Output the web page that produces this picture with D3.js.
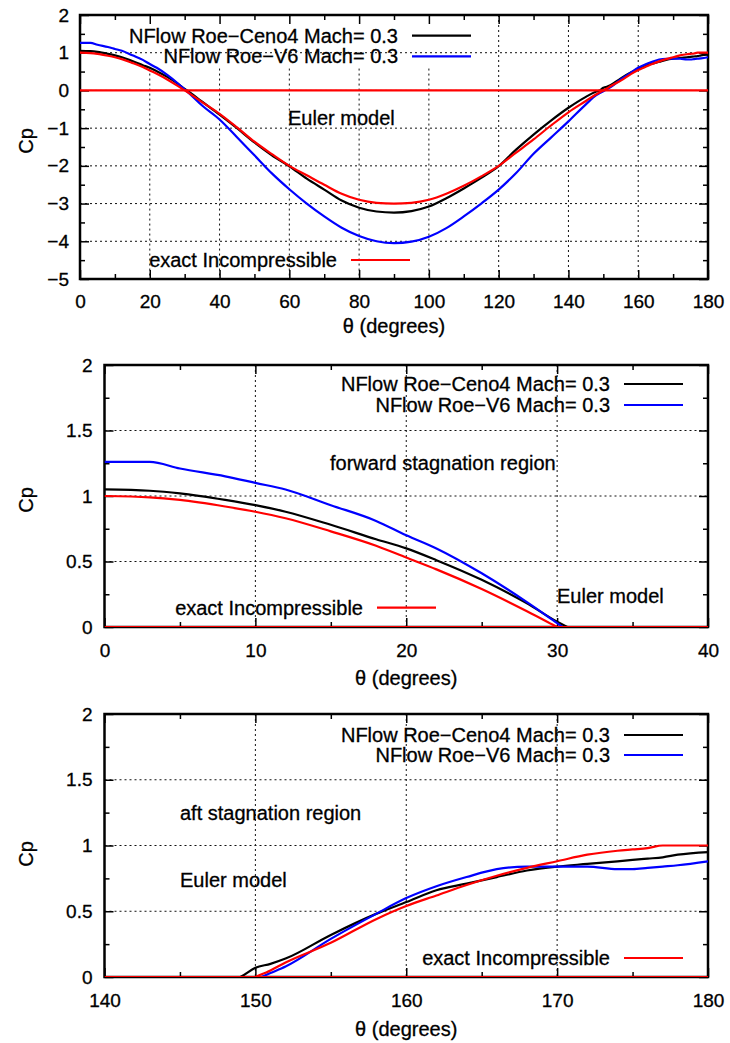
<!DOCTYPE html>
<html>
<head>
<meta charset="utf-8">
<script src="https://cdn.jsdelivr.net/npm/d3@7"></script>
<style>
  body { margin: 0; background: #fff; }
  svg text { font-family: "Liberation Sans", Arial, Helvetica, sans-serif; fill: #000; stroke: #000; stroke-width: 0.3px; }
</style>
</head>
<body>
<svg id="chart" width="730" height="1043"></svg>
<script>
// Surface pressure coefficient around the cylinder, theta in degrees
const theta = [0, 3, 5, 8, 10, 12, 15, 18, 20, 22, 25, 28, 30, 31, 35, 40, 45, 50, 55, 60,
  65, 70, 75, 80, 85, 90, 95, 100, 105, 110, 115, 120, 125, 130, 135, 140, 145, 148, 149, 150,
  151, 152, 155, 158, 160, 162, 164, 166, 168, 170, 172, 174, 175, 176, 177, 178, 180];

const cpCeno4 = [1.05, 1.04, 1.02, 0.97, 0.93, 0.88, 0.78, 0.67, 0.60, 0.51, 0.36, 0.18, 0.04, -0.02, -0.30, -0.64, -1.00, -1.38, -1.72, -2.01,
  -2.34, -2.63, -2.92, -3.11, -3.21, -3.24, -3.20, -3.08, -2.86, -2.60, -2.32, -2.01, -1.57, -1.17, -0.80, -0.46, -0.17, -0.03, 0.00, 0.07,
  0.10, 0.14, 0.32, 0.48, 0.57, 0.66, 0.71, 0.76, 0.81, 0.84, 0.86, 0.88, 0.89, 0.90, 0.91, 0.93, 0.95];

const cpV6 = [1.26, 1.26, 1.21, 1.15, 1.10, 1.05, 0.93, 0.81, 0.70, 0.60, 0.41, 0.19, 0.03, -0.05, -0.40, -0.77, -1.24, -1.72, -2.20, -2.62,
  -3.00, -3.34, -3.64, -3.86, -4.00, -4.05, -4.01, -3.88, -3.65, -3.34, -3.00, -2.63, -2.19, -1.68, -1.25, -0.82, -0.37, -0.12, -0.07, -0.02,
  0.03, 0.08, 0.29, 0.48, 0.60, 0.69, 0.76, 0.82, 0.84, 0.84, 0.84, 0.82, 0.82, 0.83, 0.84, 0.85, 0.88];

const cpExact = [1.00, 0.99, 0.97, 0.92, 0.88, 0.83, 0.73, 0.62, 0.53, 0.44, 0.29, 0.12, 0.00, -0.06, -0.31, -0.62, -0.98, -1.36, -1.69, -2.00,
  -2.25, -2.50, -2.74, -2.90, -2.98, -3.00, -2.98, -2.90, -2.74, -2.53, -2.28, -2.00, -1.65, -1.30, -0.93, -0.58, -0.28, -0.10, -0.05, 0.00,
  0.05, 0.11, 0.26, 0.44, 0.54, 0.62, 0.70, 0.77, 0.83, 0.88, 0.93, 0.96, 0.97, 0.98, 1.00, 1.00, 1.00];

const seriesNames = ["NFlow Roe\u2212Ceno4 Mach= 0.3", "NFlow Roe\u2212V6 Mach= 0.3", "exact Incompressible"];
const seriesColors = ["#000000", "#0000ff", "#ff0000"];

// Axis ticks for the three panels
const xTicksFull = [0, 20, 40, 60, 80, 100, 120, 140, 160, 180];
const yTicksFull = [-5, -4, -3, -2, -1, 0, 1, 2];
const xTicksFwd = [0, 10, 20, 30, 40];
const xTicksAft = [140, 150, 160, 170, 180];
const yTicksZoom = [0, 0.5, 1, 1.5, 2];

const xTitle = "\u03b8 (degrees)";
const yTitle = "Cp";

const panels = [
  { left: 80, top: 15, right: 708, bottom: 279,
    xDom: [0, 180], yDom: [-5, 2], xMaj: xTicksFull, yMaj: yTicksFull, xMinStep: 10, yMinStep: 0.5,
    yPad: 11, xPad: 16, gapUntilX: 100, gapBelowY: 0.58,
    keyRight: 398, keyY: [35.7, 56.3], exactRight: 337, exactY: 260,
    notes: [{ t: "Euler model", x: 288, y: 125 }],
    xTitleY: 333, yTitleX: 33, yTitleY: 141 },
  { left: 104.5, top: 365, right: 708, bottom: 627,
    xDom: [0, 40], yDom: [0, 2], xMaj: xTicksFwd, yMaj: yTicksZoom, xMinStep: 5, yMinStep: 0.25,
    yPad: 12, xPad: 17, gapUntilX: null,
    keyRight: 610, keyY: [384, 405], exactRight: 363, exactY: 607.7,
    notes: [{ t: "forward stagnation region", x: 330, y: 470 }, { t: "Euler model", x: 557, y: 603 }],
    xTitleY: 685, yTitleX: 33, yTitleY: 500 },
  { left: 104.5, top: 714, right: 708, bottom: 977,
    xDom: [140, 180], yDom: [0, 2], xMaj: xTicksAft, yMaj: yTicksZoom, xMinStep: 5, yMinStep: 0.25,
    yPad: 12, xPad: 17, gapUntilX: null,
    keyRight: 610, keyY: [735, 755], exactRight: 610, exactY: 958,
    notes: [{ t: "aft stagnation region", x: 180, y: 820 }, { t: "Euler model", x: 180, y: 887 }],
    xTitleY: 1036, yTitleX: 33, yTitleY: 854 }
];

const svg = d3.select("#chart");
const FONT = 19;

panels.forEach((p, i) => {
  const x = d3.scaleLinear().domain(p.xDom).range([p.left, p.right]);
  const y = d3.scaleLinear().domain(p.yDom).range([p.bottom, p.top]);
  const g = svg.append("g");

  const clipId = "clip" + i;
  svg.append("clipPath").attr("id", clipId)
    .append("rect").attr("x", p.left).attr("y", p.top)
    .attr("width", p.right - p.left).attr("height", p.bottom - p.top);

  // dotted grid at the major ticks
  const grid = g.append("g").attr("stroke", "#111").attr("stroke-width", 1)
    .attr("stroke-dasharray", "2,3").attr("fill", "none");
  p.xMaj.filter(v => v > p.xDom[0] && v < p.xDom[1]).forEach(v => {
    const y0 = (p.gapUntilX !== null && v <= p.gapUntilX) ? y(p.gapBelowY) : p.top;
    grid.append("line").attr("x1", x(v)).attr("x2", x(v)).attr("y1", y0).attr("y2", p.bottom);
  });
  p.yMaj.filter(v => v > p.yDom[0] && v < p.yDom[1]).forEach(v => {
    grid.append("line").attr("x1", p.left).attr("x2", p.right).attr("y1", y(v)).attr("y2", y(v));
  });

  // minor tick values
  const xMin = d3.range(p.xDom[0], p.xDom[1] + 1e-9, p.xMinStep).filter(v => !p.xMaj.includes(v));
  const yMin = d3.range(p.yDom[0], p.yDom[1] + 1e-9, p.yMinStep)
    .map(v => +v.toFixed(3)).filter(v => !p.yMaj.includes(v));

  const fmt = d => d3.format("")(d).replace("-", "\u2212");

  // ticks on all four sides, pointing inward; labels on bottom and left
  const axes = [
    [d3.axisBottom(x).tickValues(p.xMaj).tickSize(-9).tickPadding(p.xPad).tickFormat(fmt), `translate(0,${p.bottom})`],
    [d3.axisBottom(x).tickValues(xMin).tickSize(-5).tickFormat(""), `translate(0,${p.bottom})`],
    [d3.axisTop(x).tickValues(p.xMaj).tickSize(-9).tickFormat(""), `translate(0,${p.top})`],
    [d3.axisTop(x).tickValues(xMin).tickSize(-5).tickFormat(""), `translate(0,${p.top})`],
    [d3.axisLeft(y).tickValues(p.yMaj).tickSize(-9).tickPadding(p.yPad).tickFormat(fmt), `translate(${p.left},0)`],
    [d3.axisLeft(y).tickValues(yMin).tickSize(-5).tickFormat(""), `translate(${p.left},0)`],
    [d3.axisRight(y).tickValues(p.yMaj).tickSize(-9).tickFormat(""), `translate(${p.right},0)`],
    [d3.axisRight(y).tickValues(yMin).tickSize(-5).tickFormat(""), `translate(${p.right},0)`]
  ];
  axes.forEach(([ax, tr]) => {
    const a = g.append("g").attr("transform", tr).call(ax);
    a.select(".domain").remove();
    a.selectAll("line").attr("stroke", "#000").attr("stroke-width", 1.5);
    a.selectAll("text").attr("font-size", FONT).attr("fill", "#000")
      .style("font-family", '"Liberation Sans", Arial, sans-serif');
  });

  // frame
  g.append("rect").attr("x", p.left).attr("y", p.top)
    .attr("width", p.right - p.left).attr("height", p.bottom - p.top)
    .attr("fill", "none").attr("stroke", "#000").attr("stroke-width", 2.5);

  // annotations
  p.notes.forEach(n => {
    g.append("text").attr("x", n.x).attr("y", n.y).attr("font-size", 20).text(n.t);
  });

  // curves
  const line = d3.line().x(d => x(d[0])).y(d => y(d[1])).curve(d3.curveMonotoneX);
  const curves = g.append("g").attr("clip-path", `url(#${clipId})`).attr("fill", "none")
    .attr("stroke-width", 2.2).attr("stroke-linejoin", "round");
  [cpCeno4, cpV6, cpExact].forEach((vals, k) => {
    curves.append("path").datum(theta.map((t, j) => [t, vals[j]]))
      .attr("stroke", seriesColors[k]).attr("d", line);
  });
  // Cp = 0 reference line
  curves.append("path").datum([[p.xDom[0], 0], [p.xDom[1], 0]])
    .attr("stroke", "#ff0000").attr("d", line);

  // keys
  const keyRows = [
    { name: seriesNames[0], color: seriesColors[0], right: p.keyRight, y: p.keyY[0] },
    { name: seriesNames[1], color: seriesColors[1], right: p.keyRight, y: p.keyY[1] },
    { name: seriesNames[2], color: seriesColors[2], right: p.exactRight, y: p.exactY }
  ];
  keyRows.forEach(r => {
    g.append("text").attr("x", r.right).attr("y", r.y + 6.8).attr("text-anchor", "end")
      .attr("font-size", 20).text(r.name);
    g.append("line").attr("x1", r.right + 14).attr("x2", r.right + 73)
      .attr("y1", r.y).attr("y2", r.y).attr("stroke", r.color).attr("stroke-width", 2.2);
  });

  // axis titles
  g.append("text").attr("x", (p.left + p.right) / 2).attr("y", p.xTitleY)
    .attr("text-anchor", "middle").attr("font-size", 20).text(xTitle);
  g.append("text").attr("transform", `translate(${p.yTitleX},${p.yTitleY}) rotate(-90)`)
    .attr("text-anchor", "middle").attr("font-size", 20).text(yTitle);
});
</script>
</body>
</html>
